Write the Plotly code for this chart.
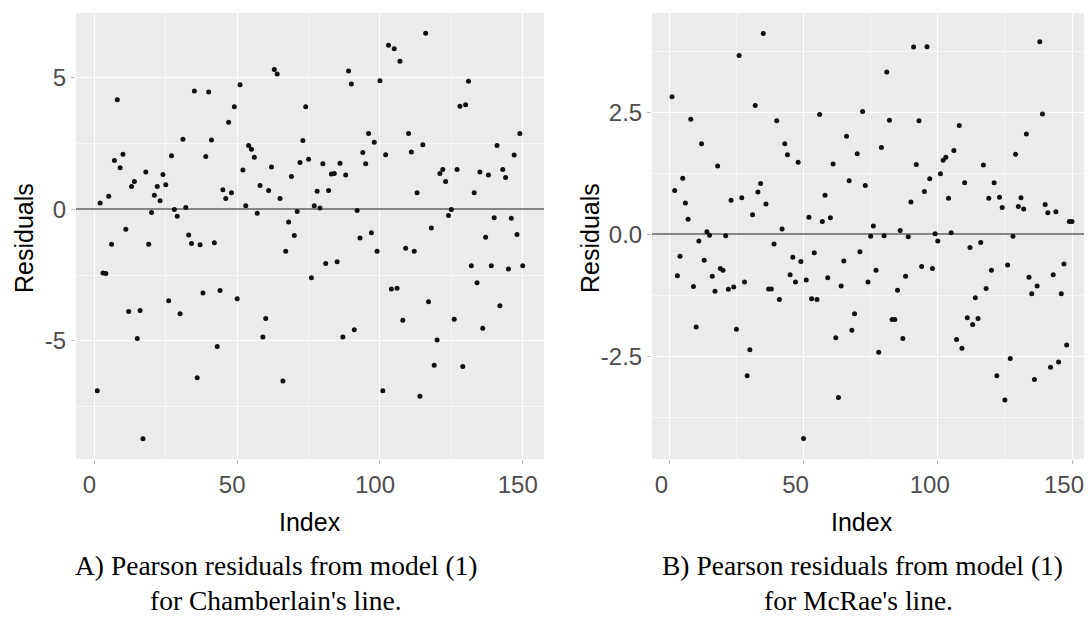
import plotly.graph_objects as go

# ---------------- data ----------------
index_vals = list(range(1, 151))

resid_chamberlain = [
    -6.89, 0.23, -2.42, -2.44, 0.49, -1.33, 1.84, 4.15, 1.57, 2.08,
    -0.76, -3.88, 0.86, 1.05, -4.91, -3.85, -8.71, 1.41, -1.33, -0.13,
    0.53, 0.86, 0.32, 1.31, 0.92, -3.48, 2.02, -0.01, -0.27, -3.97,
    2.65, 0.06, -0.98, -1.30, 4.48, -6.40, -1.35, -3.18, 2.00, 4.44,
    2.62, -1.28, -5.21, -3.09, 0.73, 0.40, 3.30, 0.62, 3.88, -3.40,
    4.72, 1.48, 0.13, 2.41, 2.27, 1.97, -0.16, 0.90, -4.85, -4.15,
    0.71, 1.60, 5.30, 5.13, 0.40, -6.52, -1.60, -0.49, 1.24, -1.00,
    -0.09, 1.77, 2.60, 3.88, 1.89, -2.60, 0.13, 0.68, 0.04, 1.72,
    -2.06, 0.71, 1.33, 1.35, -2.00, 1.74, -4.85, 1.29, 5.24, 4.75,
    -4.58, -0.05, -1.10, 2.15, 1.72, 2.87, -0.90, 2.54, -1.60, 4.87,
    -6.89, 2.06, 6.22, -3.03, 6.08, -3.00, 5.61, -4.22, -1.48, 2.87,
    2.17, -1.60, 0.62, -7.10, 2.44, 6.67, -3.51, -0.72, -5.92, -4.97,
    1.35, 1.50, 1.05, -0.24, -0.01, -4.18, 1.50, 3.90, -5.97, 3.96,
    4.85, -2.15, 0.62, -2.79, 1.41, -4.52, -1.07, 1.29, -2.15, -0.33,
    2.41, -3.67, 1.50, 1.20, -2.27, -0.35, 2.05, -0.96, 2.87, -2.15,
]

resid_mcrae = [
    2.82, 0.90, -0.85, -0.45, 1.15, 0.64, 0.31, 2.36, -1.07, -1.90,
    -0.14, 1.86, -0.53, 0.05, -0.02, -0.86, -1.17, 1.40, -0.70, -0.74,
    -0.03, -1.13, 0.70, -1.08, -1.95, 3.67, 0.75, -0.98, -2.90, -2.37,
    0.40, 2.64, 0.87, 1.04, 4.12, 0.62, -1.12, -1.12, -0.20, 2.33,
    -1.34, 0.11, 1.86, 1.63, -0.83, -0.47, -0.98, 1.48, -0.56, -4.19,
    -0.94, 0.35, -1.32, -0.38, -1.34, 2.46, 0.26, 0.80, -0.89, 0.34,
    1.44, -2.12, -3.35, -1.06, -0.55, 2.01, 1.10, -1.97, -1.63, 1.65,
    -0.36, 2.52, 1.00, -0.98, -0.04, 0.17, -0.74, -2.42, 1.78, -0.03,
    3.33, 2.34, -1.75, -1.75, -1.15, 0.08, -2.14, -0.86, -0.05, 0.66,
    3.84, 1.43, 2.33, -0.66, 0.88, 3.85, 1.14, -0.70, 0.01, -0.14,
    1.24, 1.52, 1.58, 0.74, 0.03, 1.72, -2.16, 2.23, -2.34, 1.06,
    -1.71, -0.27, -1.85, -1.30, -1.73, -0.17, 1.42, -1.11, 0.74, -0.74,
    1.06, -2.90, 0.76, 0.55, -3.40, -0.63, -2.55, -0.04, 1.64, 0.57,
    0.75, 0.52, 2.06, -0.88, -1.22, -2.98, -1.06, 3.95, 2.47, 0.61,
    0.44, -2.73, -0.83, 0.46, -2.62, -1.22, -0.61, -2.27, 0.26, 0.26,
]

x_ticks = [0, 50, 100, 150]
x_ticktext = ["0", "50", "100", "150"]
yA_ticks = [-5, 0, 5]
yA_ticktext = ["-5", "0", "5"]
yB_ticks = [-2.5, 0, 2.5]
yB_ticktext = ["-2.5", "0.0", "2.5"]

caption_A = ["A) Pearson residuals from model (1)", "for Chamberlain's line."]
caption_B = ["B) Pearson residuals from model (1)", "for McRae's line."]

# ---------------- figure ----------------
# The page body has an 8px margin, so page coordinates = figure coordinates + 8.
OFF = 8
W, H = 1092 - OFF, 617 - OFF
SANS = "Liberation Sans, Arial, sans-serif"
SERIF = "Liberation Serif, Times New Roman, serif"
TICK_SIZE = 24
TITLE_SIZE = 25


def px(xp):
    return (xp - OFF) / W


def py(yp):
    return 1 - (yp - OFF) / H


fig = go.Figure()
marker = dict(color="#111111", size=5, line=dict(width=0))
fig.add_trace(go.Scatter(x=index_vals, y=resid_chamberlain, mode="markers",
                         marker=marker, xaxis="x", yaxis="y", showlegend=False))
fig.add_trace(go.Scatter(x=index_vals, y=resid_mcrae, mode="markers",
                         marker=marker, xaxis="x2", yaxis="y2", showlegend=False))


def xaxis(domain, anchor, shift):
    return dict(domain=domain, range=[-6.45, 157.45], tickvals=x_ticks, ticktext=x_ticktext,
                anchor=anchor,
                showgrid=True, gridcolor="white", gridwidth=1.3, zeroline=False,
                minor=dict(dtick=25, tick0=0, showgrid=True, gridcolor="#F7F7F7", gridwidth=0.7),
                ticks="outside", ticklen=4, tickcolor="#BBBBBB", tickwidth=1,
                ticklabelshift=shift,
                tickfont=dict(family=SANS, size=TICK_SIZE, color="#4D4D4D"),
                showline=False, automargin=False, fixedrange=True)


def yaxis(domain, rng, tv, tt, minor_dtick, anchor):
    return dict(domain=domain, range=rng, tickvals=tv, ticktext=tt, anchor=anchor,
                showgrid=True, gridcolor="white", gridwidth=1.3,
                zeroline=True, zerolinecolor="#858585", zerolinewidth=1.6,
                minor=dict(dtick=minor_dtick, tick0=0, showgrid=True, gridcolor="#F7F7F7", gridwidth=0.7),
                ticks="outside", ticklen=4, tickcolor="#BBBBBB", tickwidth=1,
                tickfont=dict(family=SANS, size=TICK_SIZE, color="#4D4D4D"),
                showline=False, automargin=False, fixedrange=True)


ydom = [py(459), py(13)]
fig.update_layout(
    width=W, height=H,
    margin=dict(l=0, r=0, t=0, b=0),
    paper_bgcolor="white", plot_bgcolor="#EBEBEB",
    xaxis=xaxis([px(76), px(544)], "y", -5),
    xaxis2=xaxis([px(652), 1.0], "y2", -8),
    yaxis=yaxis(ydom, [-9.48, 7.44], yA_ticks, yA_ticktext, 2.5, "x"),
    yaxis2=yaxis(ydom, [-4.61, 4.54], yB_ticks, yB_ticktext, 1.25, "x2"),
)


def ann(text, x, y, size, family, color="black", angle=0):
    fig.add_annotation(text=text, x=px(x), y=py(y), xref="paper", yref="paper",
                       showarrow=False, textangle=angle, xanchor="center", yanchor="middle",
                       font=dict(family=family, size=size, color=color))


ann("Index", 310, 522, TITLE_SIZE, SANS)
ann("Index", 862, 522, TITLE_SIZE, SANS)
ann("Residuals", 24, 238, TITLE_SIZE, SANS, angle=-90)
ann("Residuals", 590, 238, TITLE_SIZE, SANS, angle=-90)
ann(caption_A[0], 276, 565, 27.5, SERIF)
ann(caption_A[1], 276, 600, 27.5, SERIF)
ann(caption_B[0], 862, 565, 27.5, SERIF)
ann(caption_B[1], 858, 600, 27.5, SERIF)

fig.write_html("out.html")
